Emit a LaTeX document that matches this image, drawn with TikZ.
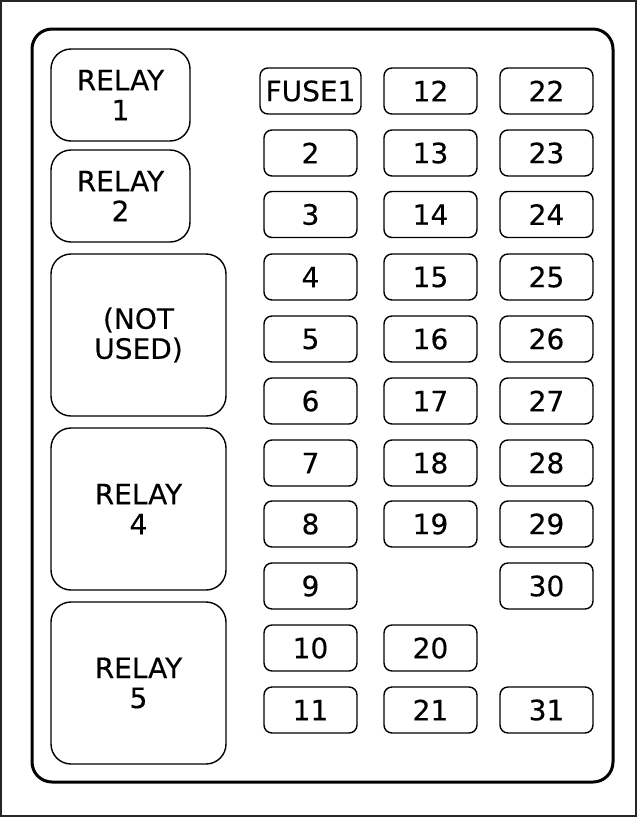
\documentclass[tikz,border=0pt]{standalone}
\usepackage{fontspec}
\setmainfont{DejaVu Sans}[FakeBold=0.35]
\begin{document}
\begin{tikzpicture}[x=1pt,y=-1pt,
  box/.style={draw=black,line width=1.4pt,rounded corners=#1,inner sep=0pt,align=center,
    font=\fontsize{28}{30}\selectfont},
  fuse/.style={box=8pt,minimum width=93pt,minimum height=46pt},
  relay/.style={box=20pt}]
\useasboundingbox (0,0) rectangle (637,817);
\draw[line width=2pt,draw=black!85] (1,1) rectangle (636,816);
\draw[line width=3pt,rounded corners=20pt] (32,29) rectangle (613,782);
% relays
\node[relay,minimum width=139pt,minimum height=92pt] (r1) at (120.5,95) {RELAY\\1};
\node[relay,minimum width=139pt,minimum height=92pt] (r2) at (120.5,196) {RELAY\\2};
\node[relay,minimum width=175pt,minimum height=162pt] (nu) at (138.5,335) {(NOT\\USED)};
\node[relay,minimum width=175pt,minimum height=162pt] (r4) at (138.5,509) {RELAY\\4};
\node[relay,minimum width=175pt,minimum height=162pt] (r5) at (138.5,683) {RELAY\\5};
% fuses column 1
\node[fuse,minimum width=101pt] (f1) at (310.5,91) {FUSE1};
\node[fuse] (f2) at (310.5,153) {2};
\node[fuse] (f3) at (310.5,214.5) {3};
\node[fuse] (f4) at (310.5,277) {4};
\node[fuse] (f5) at (310.5,339) {5};
\node[fuse] (f6) at (310.5,401) {6};
\node[fuse] (f7) at (310.5,463) {7};
\node[fuse] (f8) at (310.5,524) {8};
\node[fuse] (f9) at (310.5,586) {9};
\node[fuse] (f10) at (310.5,648) {10};
\node[fuse] (f11) at (310.5,710) {11};
% column 2
\node[fuse] (f12) at (430.5,91) {12};
\node[fuse] (f13) at (430.5,153) {13};
\node[fuse] (f14) at (430.5,214.5) {14};
\node[fuse] (f15) at (430.5,277) {15};
\node[fuse] (f16) at (430.5,339) {16};
\node[fuse] (f17) at (430.5,401) {17};
\node[fuse] (f18) at (430.5,463) {18};
\node[fuse] (f19) at (430.5,524) {19};
\node[fuse] (f20) at (430.5,648) {20};
\node[fuse] (f21) at (430.5,710) {21};
% column 3
\node[fuse] (f22) at (546.5,91) {22};
\node[fuse] (f23) at (546.5,153) {23};
\node[fuse] (f24) at (546.5,214.5) {24};
\node[fuse] (f25) at (546.5,277) {25};
\node[fuse] (f26) at (546.5,339) {26};
\node[fuse] (f27) at (546.5,401) {27};
\node[fuse] (f28) at (546.5,463) {28};
\node[fuse] (f29) at (546.5,524) {29};
\node[fuse] (f30) at (546.5,586) {30};
\node[fuse] (f31) at (546.5,710) {31};
\end{tikzpicture}
\end{document}
